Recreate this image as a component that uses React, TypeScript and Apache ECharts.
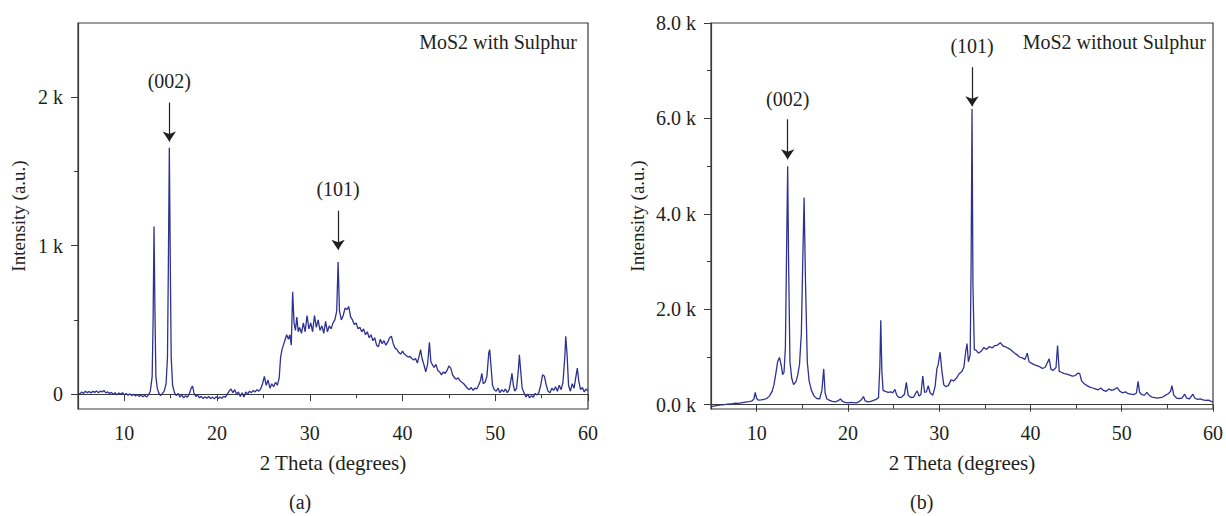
import React, { useEffect, useRef } from "react";
import * as echarts from "echarts";

// ---------- DATA ----------
// (a) MoS2 with Sulphur : [2 theta, intensity]
const withSulphur: [number, number][] = [
  [5.0, 10], [5.2, 0], [5.4, 15], [5.6, 5], [5.8, 20], [6.0, 10], [6.2, 18], [6.4, 8], [6.6, 20], [6.8, 12],
  [7.0, 22], [7.2, 10], [7.4, 20], [7.6, 15], [7.8, 25], [8.0, 8], [8.2, 15], [8.4, 5], [8.6, 12], [8.8, 0],
  [9.0, 10], [9.2, -5], [9.4, 8], [9.6, 0], [9.8, 10], [10.0, -5], [10.2, 5], [10.4, -8], [10.6, 2], [10.8, -10],
  [11.0, 0], [11.2, -12], [11.4, -2], [11.6, -15], [11.8, -5], [12.0, -18], [12.2, -8], [12.4, -20], [12.6, -5],
  [12.8, 20], [13.0, 120], [13.1, 500], [13.2, 1130], [13.3, 550], [13.4, 120], [13.55, 40], [13.7, 10],
  [13.9, -10], [14.1, 5], [14.3, 20], [14.5, 70], [14.65, 250], [14.75, 900], [14.85, 1660], [14.95, 900],
  [15.05, 250], [15.2, 60], [15.4, 10], [15.6, -10], [15.8, 5], [16.0, -20], [16.2, -5], [16.4, -25], [16.6, -10],
  [16.8, -20], [17.0, 0], [17.2, 40], [17.35, 55], [17.5, 10], [17.7, -15], [17.9, -5], [18.1, -25], [18.3, -15],
  [18.5, -30], [18.7, -18], [18.9, -28], [19.1, -15], [19.3, -30], [19.5, -20], [19.7, -32], [19.9, -18],
  [20.1, -30], [20.3, -20], [20.5, -28], [20.7, -15], [20.9, -20], [21.1, 0], [21.3, 20], [21.5, 35], [21.7, 10],
  [21.9, 30], [22.1, 0], [22.3, 15], [22.5, -15], [22.7, 10], [22.9, -20], [23.1, 15], [23.3, 0], [23.5, 20],
  [23.7, 10], [23.9, 25], [24.1, 15], [24.3, 30], [24.5, 20], [24.7, 35], [24.9, 70], [25.1, 120], [25.3, 60],
  [25.5, 95], [25.7, 40], [25.9, 70], [26.1, 50], [26.3, 80], [26.5, 60], [26.7, 110], [26.85, 250], [27.0, 300],
  [27.15, 330], [27.3, 360], [27.5, 400], [27.7, 370], [27.85, 400], [28.0, 330], [28.15, 690], [28.3, 480],
  [28.45, 430], [28.6, 520], [28.75, 420], [28.9, 450], [29.1, 410], [29.3, 480], [29.5, 420], [29.7, 530],
  [29.9, 440], [30.1, 480], [30.3, 420], [30.5, 530], [30.7, 450], [30.9, 500], [31.1, 430], [31.3, 460],
  [31.5, 410], [31.7, 490], [31.9, 420], [32.1, 460], [32.3, 440], [32.5, 480], [32.7, 500], [32.9, 560],
  [33.05, 890], [33.2, 560], [33.4, 500], [33.6, 530], [33.8, 580], [34.0, 570], [34.2, 590], [34.4, 520],
  [34.6, 500], [34.8, 470], [35.0, 480], [35.2, 440], [35.4, 450], [35.6, 420], [35.8, 440], [36.0, 400],
  [36.2, 420], [36.4, 380], [36.6, 400], [36.8, 360], [37.0, 380], [37.2, 330], [37.4, 320], [37.6, 370],
  [37.8, 340], [38.0, 360], [38.2, 330], [38.4, 350], [38.6, 380], [38.8, 390], [39.0, 340], [39.2, 310],
  [39.4, 300], [39.6, 280], [39.8, 270], [40.0, 290], [40.2, 270], [40.4, 260], [40.6, 250], [40.8, 255],
  [41.0, 240], [41.2, 230], [41.4, 240], [41.6, 210], [41.8, 260], [41.95, 300], [42.1, 240], [42.3, 200],
  [42.5, 150], [42.7, 200], [42.9, 350], [43.05, 220], [43.2, 200], [43.4, 180], [43.6, 200], [43.8, 160],
  [44.0, 150], [44.2, 130], [44.4, 150], [44.6, 140], [44.8, 160], [45.0, 190], [45.2, 175], [45.4, 130],
  [45.6, 110], [45.8, 100], [46.0, 110], [46.2, 90], [46.4, 80], [46.6, 70], [46.8, 55], [47.0, 40], [47.2, 30],
  [47.4, 45], [47.6, 25], [47.8, 40], [48.0, 35], [48.2, 60], [48.4, 90], [48.55, 140], [48.7, 70], [48.9, 80],
  [49.1, 120], [49.3, 280], [49.4, 300], [49.55, 180], [49.7, 60], [49.9, 30], [50.1, 20], [50.3, 40], [50.5, 10],
  [50.7, 30], [50.9, 15], [51.1, 35], [51.3, 10], [51.5, 30], [51.7, 100], [51.8, 140], [51.95, 60], [52.1, 20],
  [52.3, 40], [52.5, 170], [52.6, 265], [52.75, 150], [52.9, 40], [53.1, 10], [53.3, -20], [53.5, 0], [53.7, -25],
  [53.9, -10], [54.1, -20], [54.3, 5], [54.5, -5], [54.7, 10], [54.9, 60], [55.1, 130], [55.3, 120], [55.5, 60],
  [55.7, 20], [55.9, 10], [56.1, 40], [56.3, 25], [56.5, 50], [56.7, 20], [56.9, 60], [57.1, 30], [57.3, 80],
  [57.5, 250], [57.6, 390], [57.75, 260], [57.9, 60], [58.1, 20], [58.3, 70], [58.5, 40], [58.7, 120],
  [58.85, 175], [59.0, 90], [59.2, 30], [59.4, 45], [59.6, 15], [59.8, 35], [60.0, 20],
];

// (b) MoS2 without Sulphur : [2 theta, intensity]
const withoutSulphur: [number, number][] = [
  [5.0, -40], [5.3, -30], [5.6, -20], [5.9, -10], [6.2, -5], [6.5, 0], [6.8, 10], [7.1, 15], [7.4, 20], [7.7, 35],
  [8.0, 30], [8.3, 40], [8.6, 50], [8.9, 60], [9.2, 65], [9.5, 80], [9.7, 120], [9.85, 260], [10.0, 130],
  [10.2, 95], [10.5, 100], [10.8, 110], [11.1, 130], [11.4, 180], [11.7, 280], [11.9, 420], [12.1, 650],
  [12.3, 900], [12.5, 990], [12.7, 820], [12.85, 630], [13.0, 680], [13.15, 1200], [13.3, 3500], [13.4, 5000],
  [13.5, 3000], [13.65, 900], [13.85, 550], [14.05, 420], [14.3, 480], [14.5, 620], [14.7, 850], [14.9, 1500],
  [15.05, 3000], [15.2, 4340], [15.35, 2600], [15.55, 900], [15.75, 500], [16.0, 300], [16.3, 180], [16.6, 130],
  [16.9, 120], [17.15, 300], [17.35, 750], [17.5, 250], [17.7, 120], [18.0, 90], [18.3, 70], [18.6, 60],
  [18.9, 80], [19.2, 120], [19.4, 70], [19.7, 50], [20.0, 40], [20.3, 50], [20.6, 45], [20.9, 40], [21.2, 60],
  [21.5, 110], [21.7, 170], [21.9, 80], [22.2, 60], [22.5, 70], [22.8, 90], [23.1, 110], [23.35, 150],
  [23.5, 800], [23.6, 1770], [23.72, 700], [23.85, 300], [24.1, 280], [24.4, 260], [24.7, 270], [24.9, 250],
  [25.15, 320], [25.35, 200], [25.6, 150], [25.9, 160], [26.2, 220], [26.4, 470], [26.6, 200], [26.9, 150],
  [27.2, 160], [27.45, 250], [27.6, 290], [27.8, 180], [28.0, 220], [28.2, 600], [28.4, 260], [28.6, 270],
  [28.8, 400], [29.0, 250], [29.3, 200], [29.55, 380], [29.75, 750], [29.9, 850], [30.1, 1100], [30.3, 700],
  [30.5, 420], [30.7, 380], [31.0, 400], [31.3, 520], [31.6, 500], [31.9, 560], [32.2, 650], [32.5, 700],
  [32.7, 780], [32.9, 1100], [33.05, 1280], [33.2, 900], [33.4, 1050], [33.5, 3000], [33.6, 6200], [33.7, 2500],
  [33.85, 1150], [34.0, 1150], [34.3, 1080], [34.6, 1120], [34.9, 1200], [35.2, 1160], [35.5, 1220],
  [35.8, 1190], [36.1, 1240], [36.4, 1250], [36.7, 1300], [37.0, 1230], [37.3, 1210], [37.6, 1180],
  [37.9, 1140], [38.2, 1090], [38.5, 1050], [38.8, 1000], [39.1, 980], [39.4, 950], [39.65, 1080], [39.85, 900],
  [40.1, 870], [40.4, 840], [40.7, 820], [41.0, 800], [41.3, 760], [41.6, 780], [41.9, 900], [42.05, 960],
  [42.25, 740], [42.5, 720], [42.8, 780], [42.97, 1240], [43.15, 700], [43.4, 680], [43.7, 650], [44.0, 640],
  [44.3, 620], [44.6, 600], [44.9, 610], [45.2, 660], [45.4, 650], [45.6, 500], [45.9, 440], [46.2, 400],
  [46.5, 370], [46.8, 350], [47.1, 330], [47.4, 310], [47.7, 350], [48.0, 300], [48.3, 280], [48.6, 330],
  [48.9, 300], [49.2, 320], [49.5, 360], [49.8, 280], [50.1, 250], [50.4, 270], [50.7, 230], [51.0, 220],
  [51.3, 210], [51.6, 240], [51.8, 490], [51.95, 260], [52.2, 210], [52.5, 200], [52.75, 260], [53.0, 200],
  [53.3, 160], [53.6, 150], [53.9, 140], [54.2, 150], [54.5, 160], [54.8, 200], [55.1, 230], [55.35, 280],
  [55.5, 400], [55.7, 200], [56.0, 140], [56.3, 130], [56.6, 140], [56.9, 220], [57.1, 140], [57.4, 120],
  [57.8, 220], [58.0, 140], [58.3, 110], [58.6, 120], [58.9, 100], [59.2, 90], [59.5, 95], [59.8, 70], [60.0, 60],
];

// tick values
const xMajorTicks = [10, 20, 30, 40, 50, 60];
const xMinorTicks = [5, 15, 25, 35, 45, 55];
const yMajorA = [0, 1000, 2000];
const yMinorA = [500, 1500];
const yMajorB = [0, 2000, 4000, 6000, 8000];
const yMinorB = [1000, 3000, 5000, 7000];

// peak annotations: [label, 2theta, arrowTop, arrowTip, labelY]
const peaksA: [string, number, number, number, number][] = [
  ["(002)", 14.85, 1964, 1701, 2110],
  ["(101)", 33.05, 1236, 973, 1380],
];
const peaksB: [string, number, number, number, number][] = [
  ["(002)", 13.4, 5982, 5143, 6400],
  ["(101)", 33.6, 7074, 6255, 7510],
];

const FONT = "Liberation Serif";
const TXT = "#231f20";
const AX = "#3a3a3a";
const LINE = "#2e3192";

function xAxes(gridIndex: number) {
  return [
    {
      type: "value", gridIndex, min: 5, max: 60, position: "bottom",
      name: "2 Theta (degrees)", nameLocation: "middle", nameGap: 43,
      nameTextStyle: { fontFamily: FONT, fontSize: 21, color: TXT },
      axisLine: { show: true, lineStyle: { color: AX, width: 1.2 } },
      axisTick: { show: true, customValues: xMajorTicks, length: 7, lineStyle: { color: AX } },
      axisLabel: { customValues: xMajorTicks, margin: 14, fontFamily: FONT, fontSize: 20, color: TXT },
      splitLine: { show: false },
    },
    {
      type: "value", gridIndex, min: 5, max: 60, position: "bottom",
      axisLine: { show: false },
      axisTick: { show: true, customValues: xMinorTicks, length: 4, lineStyle: { color: AX } },
      axisLabel: { show: false },
      splitLine: { show: false },
    },
  ];
}

function yAxes(gridIndex: number, min: number, max: number, major: number[], minor: number[], fmt: (v: number) => string, nameGap: number) {
  return [
    {
      type: "value", gridIndex, min, max, position: "left",
      name: "Intensity (a.u.)", nameLocation: "middle", nameGap,
      nameTextStyle: { fontFamily: FONT, fontSize: 19, color: TXT },
      axisLine: { show: true, lineStyle: { color: AX, width: 1.2 } },
      axisTick: { show: true, customValues: major, length: 7, lineStyle: { color: AX } },
      axisLabel: { customValues: major, margin: 15, fontFamily: FONT, fontSize: 20, color: TXT, formatter: fmt },
      splitLine: { show: false },
    },
    {
      type: "value", gridIndex, min, max, position: "left", offset: 0,
      axisLine: { show: false },
      axisTick: { show: true, customValues: minor, length: 4, lineStyle: { color: AX } },
      axisLabel: { show: false },
      splitLine: { show: false },
    },
  ];
}

function annotations(peaks: [string, number, number, number, number][]) {
  return {
    markLine: {
      silent: true,
      animation: false,
      symbol: ["none", "arrow"],
      symbolSize: 10,
      label: { show: false },
      lineStyle: { color: TXT, width: 1.2, type: "solid" },
      data: peaks.map(([, x, y0, y1]) => [{ coord: [x, y0] }, { coord: [x, y1] }]),
    },
    markPoint: {
      silent: true,
      animation: false,
      symbol: "circle",
      symbolSize: 0,
      data: peaks.map(([name, x, , , ly]) => ({
        coord: [x, ly],
        label: { show: true, formatter: name, position: "inside", fontFamily: FONT, fontSize: 20, color: TXT },
      })),
    },
  };
}

export default function App() {
  const ref = useRef<HTMLDivElement>(null);
  useEffect(() => {
    if (!ref.current) return;
    const chart = echarts.init(ref.current, undefined, { renderer: "svg" });
    const gridCommon = { show: true, borderColor: AX, borderWidth: 1.2, containLabel: false };
    chart.setOption({
      animation: false,
      backgroundColor: "#ffffff",
      grid: [
        { ...gridCommon, left: 78, top: 23, width: 510, height: 386 },
        { ...gridCommon, left: 711, top: 23, width: 502, height: 386 },
      ],
      xAxis: [...xAxes(0), ...xAxes(1)],
      yAxis: [
        ...yAxes(0, -100, 2500, yMajorA, yMinorA, (v: number) => (v === 0 ? "0" : `${v / 1000} k`), 50),
        ...yAxes(1, -90, 8000, yMajorB, yMinorB, (v: number) => `${(v / 1000).toFixed(1)} k`, 64),
      ],
      series: [
        {
          type: "line", name: "MoS2 with Sulphur", xAxisIndex: 0, yAxisIndex: 0,
          data: withSulphur, showSymbol: false, symbol: "none",
          lineStyle: { color: LINE, width: 1.3 },
          ...annotations(peaksA),
        },
        {
          type: "line", name: "MoS2 without Sulphur", xAxisIndex: 2, yAxisIndex: 2,
          data: withoutSulphur, showSymbol: false, symbol: "none",
          lineStyle: { color: LINE, width: 1.3 },
          ...annotations(peaksB),
        },
      ],
      graphic: [
        { type: "text", right: 1226 - 577, top: 32, style: { text: "MoS2 with Sulphur", font: `20px "${FONT}"`, fill: TXT } },
        { type: "text", right: 1226 - 1206, top: 32, style: { text: "MoS2 without Sulphur", font: `20px "${FONT}"`, fill: TXT } },
        { type: "text", left: 289, top: 492, style: { text: "(a)", font: `20px "${FONT}"`, fill: TXT } },
        { type: "text", left: 910, top: 492, style: { text: "(b)", font: `20px "${FONT}"`, fill: TXT } },
      ],
    });
    return () => chart.dispose();
  }, []);
  return <div ref={ref} style={{ position: "fixed", left: 0, top: 0, width: 1226, height: 516 }} />;
}
